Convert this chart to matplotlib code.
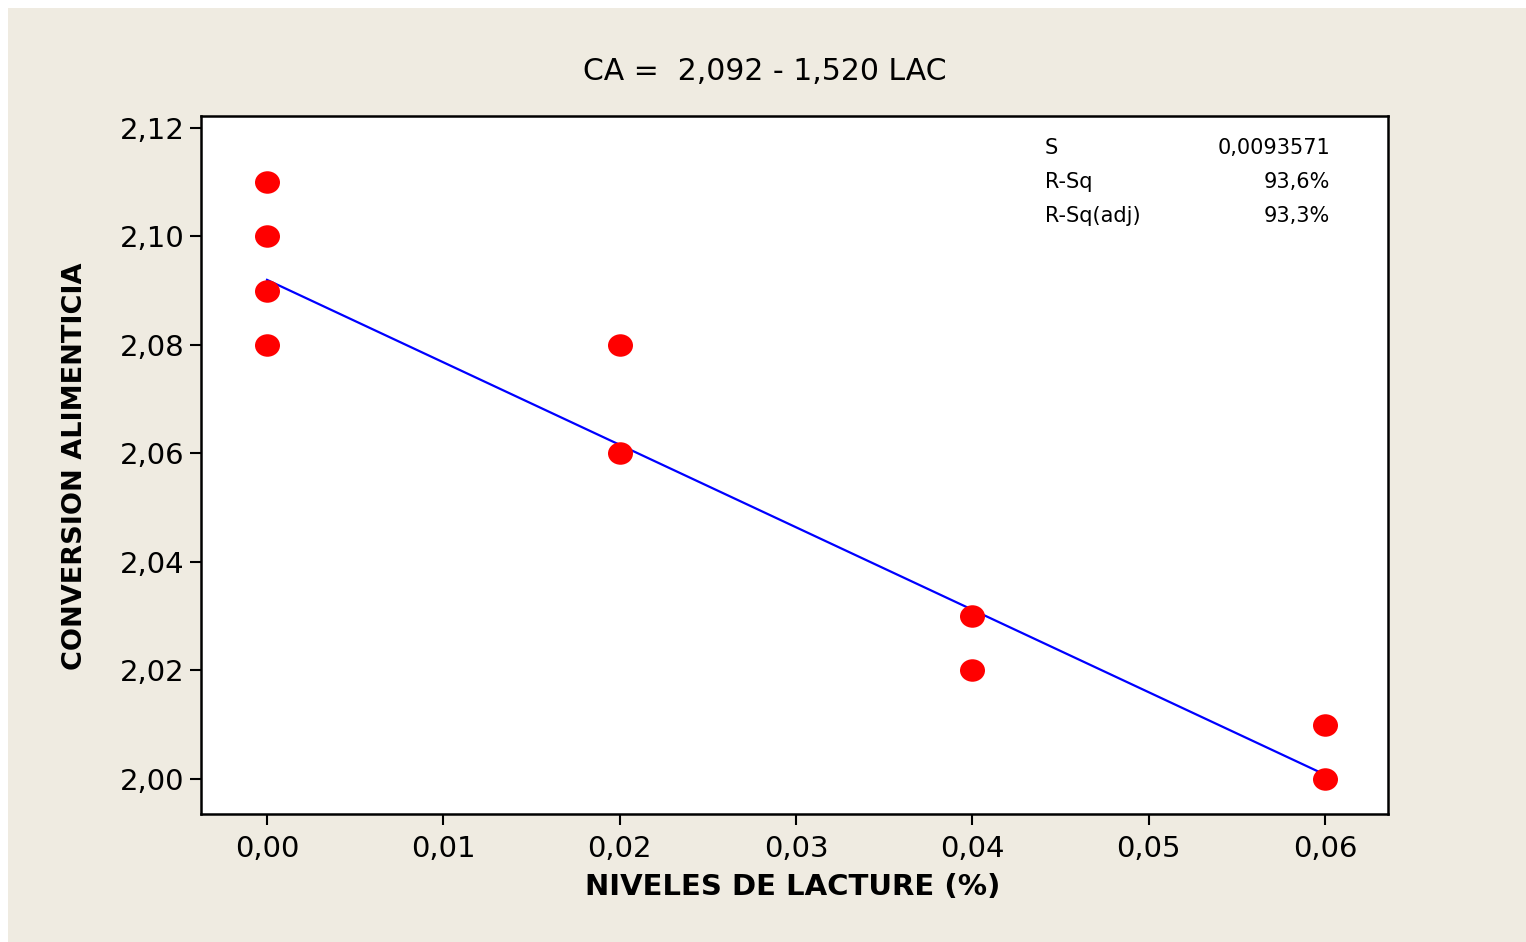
import matplotlib
matplotlib.use('Agg')
import matplotlib.pyplot as plt
import matplotlib.patches as mpatches
from matplotlib.path import Path
from matplotlib.ticker import FuncFormatter
import numpy as np

# data
lacture = [0.00, 0.00, 0.00, 0.00, 0.02, 0.02, 0.04, 0.04, 0.06, 0.06]
conversion = [2.11, 2.10, 2.09, 2.08, 2.08, 2.06, 2.03, 2.02, 2.01, 2.00]

# fitted line from the title
intercept = 2.092
slope = -1.520
fit_x = [0.00, 0.06]

stat_names = ['S', 'R-Sq', 'R-Sq(adj)']
stat_values = ['0,0093571', '93,6%', '93,3%']

x_ticks = [0.00, 0.01, 0.02, 0.03, 0.04, 0.05, 0.06]
y_ticks = [2.00, 2.02, 2.04, 2.06, 2.08, 2.10, 2.12]

BEIGE = '#efebe1'


def comma(v, pos, nd):
    return ('{0:.%df}' % nd).format(v).replace('.', ',')


def main():
    fig = plt.figure(figsize=(15.26, 9.42), dpi=100, facecolor='white')
    # beige panel behind everything, with a thin white edge top/left
    fig.patches.append(mpatches.Rectangle((8 / 1526, 0), 1, 1 - 8 / 942,
                                          transform=fig.transFigure,
                                          facecolor=BEIGE, edgecolor='none',
                                          zorder=-10))

    ax = fig.add_axes([201 / 1526, 1 - 814 / 942, (1388 - 201) / 1526, (814 - 116) / 942])
    ax.set_facecolor('white')

    # slightly wide dot, like the original
    circ = Path.unit_circle()
    oval = Path(circ.vertices * np.array([1.0, 0.9]), circ.codes)

    fx = np.array(fit_x)
    ax.plot(fx, intercept + slope * fx, color='#0000ff', lw=1.6, zorder=2)
    ax.plot(lacture, conversion, linestyle='none', marker=oval, color='#ff0000',
            ms=18, mec='none', zorder=3)

    ax.set_xlim(-0.003743, 0.063573)
    ax.set_ylim(1.99355, 2.1222)
    ax.set_xticks(x_ticks)
    ax.set_yticks(y_ticks)
    ax.xaxis.set_major_formatter(FuncFormatter(lambda v, p: comma(v, p, 2)))
    ax.yaxis.set_major_formatter(FuncFormatter(lambda v, p: comma(v, p, 2)))
    ax.tick_params(axis='both', direction='out', length=8, width=1.5,
                   labelsize=21, color='black')
    ax.tick_params(axis='x', pad=7)
    ax.tick_params(axis='y', pad=4)
    for s in ax.spines.values():
        s.set_linewidth(1.8)

    fig.text(765 / 1526, 1 - 72 / 942, 'CA =  2,092 - 1,520 LAC', ha='center',
             va='center', fontsize=21.5)
    fig.text(793 / 1526, 1 - 887 / 942, 'NIVELES DE LACTURE (%)', ha='center',
             va='center', fontsize=21, fontweight='bold')
    fig.text(75 / 1526, 1 - 466 / 942, 'CONVERSION ALIMENTICIA', ha='center',
             va='center', fontsize=19.5, fontweight='bold', rotation=90)

    for i, (n, v) in enumerate(zip(stat_names, stat_values)):
        y = 1 - (148 + 34 * i) / 942
        fig.text(1045 / 1526, y, n, ha='left', va='center', fontsize=15)
        fig.text(1330 / 1526, y, v, ha='right', va='center', fontsize=15)

    plt.savefig('out.png', dpi=100, facecolor=fig.get_facecolor())


if __name__ == "__main__":
    main()
